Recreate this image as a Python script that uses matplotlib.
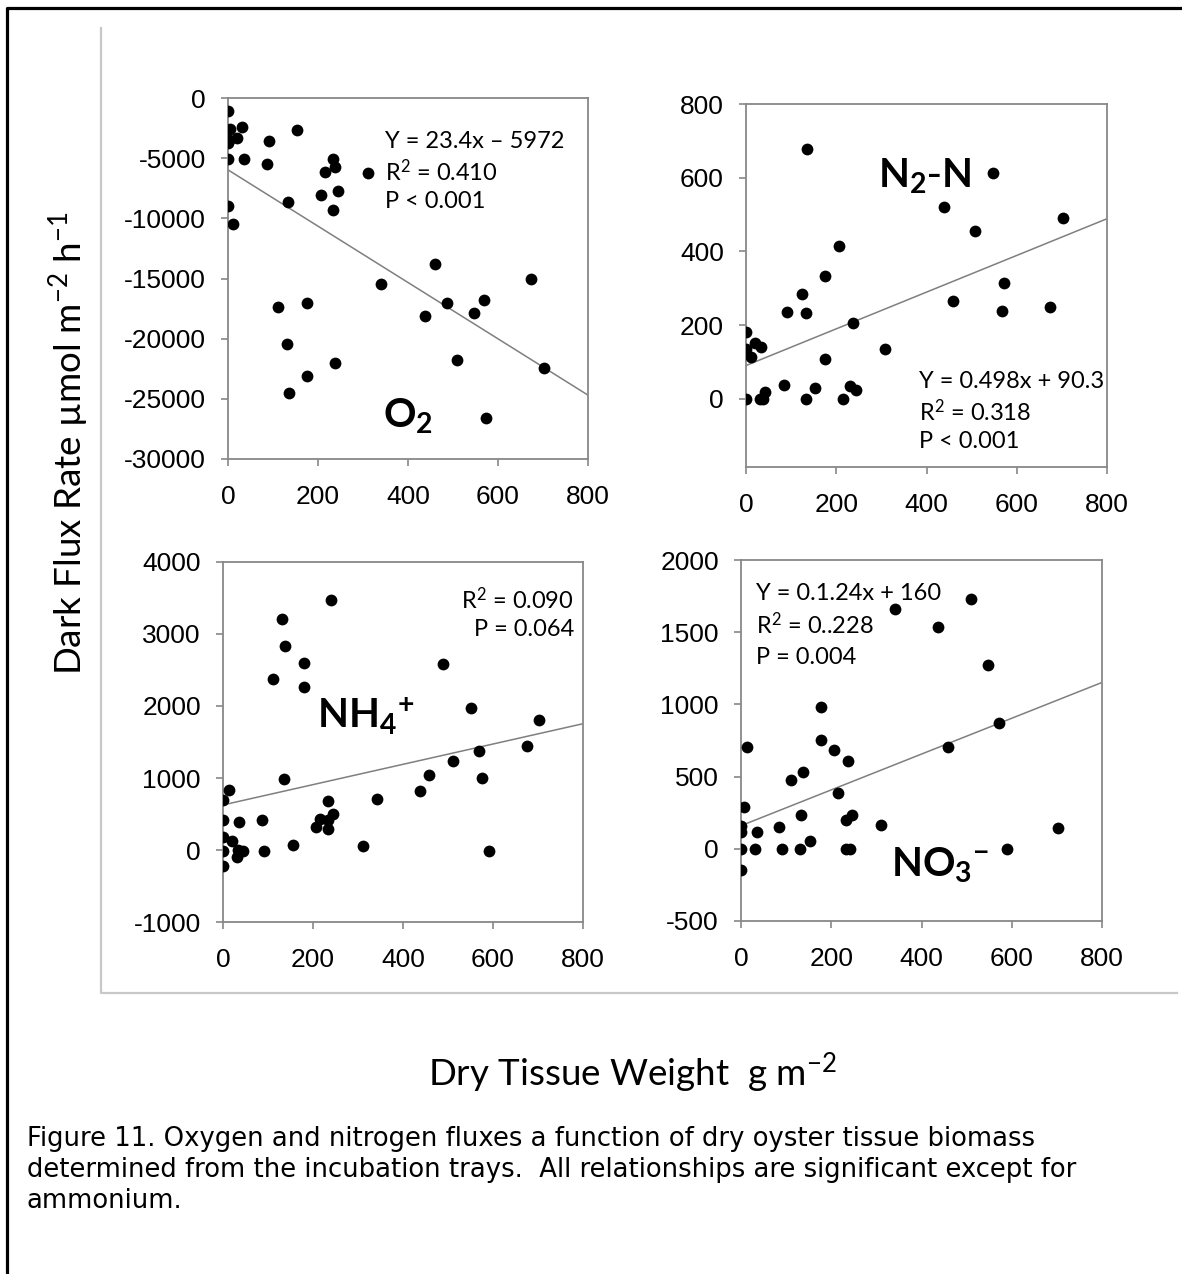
import numpy as np
import matplotlib
matplotlib.use("Agg")
import matplotlib.pyplot as plt
from matplotlib.lines import Line2D

# dry tissue weight (g m-2) and dark flux rates (umol m-2 h-1)
o2_x = [0, 5, 31, 20, 0, 3, 90, 153, 0, 35, 86, 233, 238, 216, 310, 244, 207, 233, 133,
        1, 11, 459, 341, 673, 110, 176, 486, 438, 547, 568, 131, 237, 509, 702, 176, 136, 573]
o2_y = [-1050, -2550, -2450, -3300, -3700, -3450, -3600, -2650, -5050, -5050, -5500, -5100,
        -5700, -6150, -6250, -7750, -8100, -9300, -8650, -9000, -10450, -13800, -15450,
        -15000, -17400, -17000, -17000, -18100, -17900, -16750, -20450, -22000, -21750,
        -22400, -23100, -24550, -26600]

n2_x = [136, 547, 438, 508, 702, 206, 176, 572, 123, 90, 132, 458, 567, 673, 237, 0, 0, 20,
        33, 11, 176, 308, 85, 153, 42, 231, 244, 0, 30, 37, 133, 216]
n2_y = [679, 613, 521, 456, 491, 416, 332, 314, 284, 236, 234, 265, 238, 250, 205, 182, 134,
        152, 140, 113, 109, 135, 38, 29, 18, 35, 25, 0, 0, 0, 0, 0]

nh4_x = [239, 132, 138, 179, 488, 112, 179, 551, 703, 675, 569, 510, 458, 575, 135, 437, 13,
         0, 233, 342, 0, 36, 87, 244, 216, 206, 234, 234, 0, 21, 0, 0, 31, 44, 33, 92, 155,
         310, 592]
nh4_y = [3466, 3207, 2827, 2595, 2586, 2373, 2261, 1979, 1812, 1441, 1376, 1233, 1047, 996,
         982, 820, 834, 695, 681, 709, 417, 394, 417, 500, 426, 315, 417, 287, 185, 130, -9,
         -222, -93, -9, 0, -9, 70, 56, -9]

no3_x = [510, 341, 437, 547, 177, 572, 13, 458, 177, 206, 237, 111, 137, 216, 7, 132, 233,
         246, 0, 0, 85, 36, 310, 702, 153, 0, 31, 90, 131, 233, 242, 590, 0]
no3_y = [1729, 1664, 1539, 1276, 984, 868, 704, 704, 752, 683, 607, 479, 530, 389, 289, 231,
         201, 234, 155, 113, 153, 113, 164, 144, 56, 0, 0, 0, 0, 0, 0, 0, -146]

# regression lines (slope, intercept)
o2_fit = (-23.4, -5972)
n2_fit = (0.498, 90.3)
nh4_fit = (1.41, 626)
no3_fit = (1.24, 160)

o2_ticks = [0, -5000, -10000, -15000, -20000, -25000, -30000]
n2_ticks = [0, 200, 400, 600, 800]
nh4_ticks = [-1000, 0, 1000, 2000, 3000, 4000]
no3_ticks = [-500, 0, 500, 1000, 1500, 2000]
x_ticks = [0, 200, 400, 600, 800]

W, H = 1182, 1274
plt.rcParams['axes.unicode_minus'] = False
plt.rcParams['mathtext.fontset'] = 'custom'
plt.rcParams['mathtext.rm'] = 'Lato'
plt.rcParams['mathtext.it'] = 'Lato:italic'
plt.rcParams['mathtext.bf'] = 'Lato:bold'

fig = plt.figure(figsize=(W / 100, H / 100), dpi=100)


def rect(l, t, r, b):
    return [l / W, 1 - b / H, (r - l) / W, (b - t) / H]


def fpos(x, y):
    return x / W, 1 - y / H


def panel(box, xs, ys, fit, yticks, ylim):
    ax = fig.add_axes(rect(*box))
    ax.scatter(xs, ys, s=72, color='black', zorder=3, linewidths=0)
    xx = np.array([0, 800])
    ax.plot(xx, fit[0] * xx + fit[1], color='#7f7f7f', lw=1.1, zorder=2)
    ax.set_xlim(0, 800)
    ax.set_ylim(*ylim)
    ax.set_xticks(x_ticks)
    ax.set_yticks(yticks)
    for s in ax.spines.values():
        s.set_color('#888888')
        s.set_linewidth(1.3)
    ax.tick_params(direction='out', length=5, width=1.2, color='#888888', labelsize=19)
    ax.tick_params(axis='x', pad=14)
    ax.tick_params(axis='y', pad=11)
    for lab in ax.get_xticklabels() + ax.get_yticklabels():
        lab.set_fontfamily('Liberation Sans')
    return ax


panel((228, 98, 588, 459), o2_x, o2_y, o2_fit, o2_ticks, (-30000, 0))
panel((746, 104, 1107, 467), n2_x, n2_y, n2_fit, n2_ticks, (-185, 800))
panel((223, 562, 583, 922), nh4_x, nh4_y, nh4_fit, nh4_ticks, (-1000, 4000))
panel((741, 560, 1102, 921), no3_x, no3_y, no3_fit, no3_ticks, (-500, 2000))

ann = dict(fontsize=17, family='Lato', va='center')
for i, s in enumerate(['Y = 23.4x – 5972', 'R$^2$ = 0.410', 'P < 0.001']):
    fig.text(*fpos(385, 142 + 30 * i), s, ha='left', **ann)
for i, s in enumerate(['Y = 0.498x + 90.3', 'R$^2$ = 0.318', 'P < 0.001']):
    fig.text(*fpos(919, 381 + 30.5 * i), s, ha='left', **ann)
for i, s in enumerate(['R$^2$ = 0.090', 'P = 0.064']):
    fig.text(*fpos(574, 600 + 30 * i), s, ha='right', **ann)
for i, s in enumerate(['Y = 0.1.24x + 160', 'R$^2$ = 0..228', 'P = 0.004']):
    fig.text(*fpos(756, 593 + 32 * i), s, ha='left', **ann)

big = dict(fontsize=29, va='center', ha='center')
fig.text(*fpos(408, 417), r'$\mathbf{O_2}$', **big)
fig.text(*fpos(925, 177), r'$\mathbf{N_2}$-$\mathbf{N}$', **big)
fig.text(*fpos(366, 717), r'$\mathbf{NH_4}^{\mathbf{+}}$', **big)
fig.text(*fpos(940, 866), r'$\mathbf{NO_3}^{\mathbf{-}}$', **big)

fig.text(*fpos(69, 443), r'Dark Flux Rate µmol m$^{-2}$ h$^{-1}$', rotation=90,
         ha='center', va='center', fontsize=26.5, family='Lato')
fig.text(*fpos(632, 1073), r'Dry Tissue Weight  g m$^{-2}$', ha='center', va='center',
         fontsize=26.5, family='Lato')

caption = ("Figure 11. Oxygen and nitrogen fluxes a function of dry oyster tissue biomass\n"
           "determined from the incubation trays.  All relationships are significant except for\n"
           "ammonium.")
fig.text(*fpos(27, 1126), caption, ha='left', va='top', fontsize=18.6,
         family='DejaVu Sans', linespacing=1.24)

# outer gray L-border of the chart area and black page frame
fig.add_artist(Line2D([101 / W, 101 / W, 1177 / W], [1 - 28 / H, 1 - 993 / H, 1 - 993 / H],
                      transform=fig.transFigure, color='#c8c8c8', lw=1.6))
fig.add_artist(Line2D([6.5 / W, 6.5 / W, 1.0], [0.0, 1 - 7.5 / H, 1 - 7.5 / H],
                      transform=fig.transFigure, color='black', lw=2.3))

fig.savefig('out.png', dpi=100)
